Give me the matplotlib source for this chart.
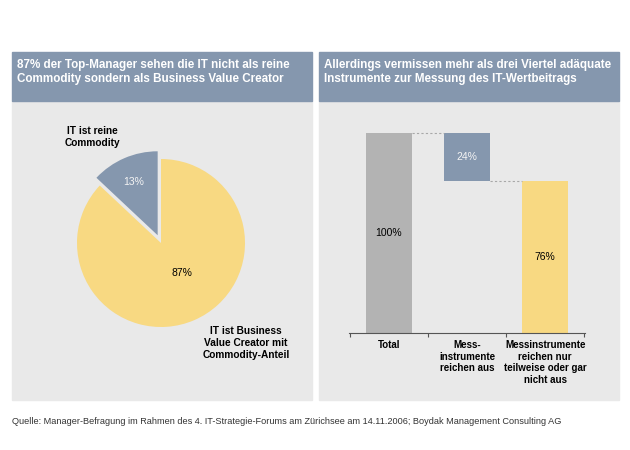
import matplotlib.pyplot as plt
from matplotlib.patches import Rectangle

plt.rcParams['font.family'] = ['Liberation Sans', 'DejaVu Sans']

# Daten
pie_labels = ['IT ist reine\nCommodity', 'IT ist Business\nValue Creator mit\nCommodity-Anteil']
pie_values = [13, 87]

bar_labels = ['Total', 'Mess-\ninstrumente\nreichen aus', 'Messinstrumente\nreichen nur\nteilweise oder gar\nnicht aus']
bar_values = [100, 24, 76]

title_left = '87% der Top-Manager sehen die IT nicht als reine\nCommodity sondern als Business Value Creator'
title_right = 'Allerdings vermissen mehr als drei Viertel adäquate\nInstrumente zur Messung des IT-Wertbeitrags'
source = ('Quelle: Manager-Befragung im Rahmen des 4. IT-Strategie-Forums am Zürichsee am 14.11.2006; '
          'Boydak Management Consulting AG')

header_col = '#8597ae'
panel_col = '#e9e9e9'
yellow = '#f8d982'
bluegray = '#8597ae'
gray = '#b3b3b3'

W, H = 630, 450
fig = plt.figure(figsize=(6.3, 4.5), dpi=100)


def px(x0, y0, x1, y1):
    # Pixelbox (oben links / unten rechts) -> Figurkoordinaten
    return [x0 / W, 1 - y1 / H, (x1 - x0) / W, (y1 - y0) / H]


# Panels und Kopfzeilen
for x0, x1, title in [(12, 312, title_left), (319, 619, title_right)]:
    b = px(x0, 101, x1, 400)
    fig.patches.append(Rectangle((b[0], b[1]), b[2], b[3], transform=fig.transFigure,
                                 color=panel_col, zorder=-5))
    h = px(x0, 52, x1, 101)
    fig.patches.append(Rectangle((h[0], h[1]), h[2], h[3], transform=fig.transFigure,
                                 color=header_col, zorder=-5))
    fig.text((x0 + 5) / W, 1 - 72 / H, title, color='white', fontsize=8.4,
             fontweight='bold', va='center', ha='left', linespacing=1.22)

fig.text(12 / W, 1 - 421 / H, source, fontsize=6.6, color='#333333', va='center')

# Kreisdiagramm
cx, cy, r = 161, 243, 84
ax1 = fig.add_axes(px(12, 101, 312, 400), zorder=2)
ax1.pie(pie_values, colors=[bluegray, yellow], startangle=90, counterclock=True,
        explode=[0.1, 0], radius=1, wedgeprops=dict(linewidth=0))
ax1.set_xlim((12 - cx) / r, (312 - cx) / r)
ax1.set_ylim((cy - 400) / r, (cy - 101) / r)
ax1.set_aspect('auto')
ax1.axis('off')

ax1.text(-0.82, 1.26, pie_labels[0], ha='center', va='center', fontsize=7.3,
         fontweight='bold', linespacing=1.2)
ax1.text(1.01, -1.19, pie_labels[1], ha='center', va='center', fontsize=7.3,
         fontweight='bold', linespacing=1.2)
ax1.text(-0.32, 0.73, f'{pie_values[0]}%', ha='center', va='center', fontsize=7.5, color='#f4f4f4')
ax1.text(0.25, -0.36, f'{pie_values[1]}%', ha='center', va='center', fontsize=7.5, color='black')

# Wasserfalldiagramm
ax2 = fig.add_axes(px(349, 113, 585, 333), zorder=2)
bottoms = [0, bar_values[0] - bar_values[1], 0]
cols = [gray, bluegray, yellow]
bw = 0.59
x = range(len(bar_values))
ax2.bar(x, bar_values, bottom=bottoms, width=bw, color=cols, linewidth=0)
ax2.set_xlim(-0.51, 2.51)
ax2.set_ylim(0, 110)
ax2.patch.set_visible(False)

# Verbindungslinien
ax2.plot([0 + bw / 2, 1 - bw / 2], [bar_values[0]] * 2, ls=(0, (2, 2)), color='#a8a8a8', lw=0.8)
ax2.plot([1 + bw / 2, 2 - bw / 2], [bottoms[1]] * 2, ls=(0, (2, 2)), color='#a8a8a8', lw=0.8)

txt_cols = ['black', '#f4f4f4', 'black']
for i, (v, b) in enumerate(zip(bar_values, bottoms)):
    ax2.text(i, b + v / 2, f'{v}%', ha='center', va='center', fontsize=7.5, color=txt_cols[i])

for s in ['top', 'right', 'left']:
    ax2.spines[s].set_visible(False)
ax2.spines['bottom'].set_color('#555555')
ax2.spines['bottom'].set_linewidth(0.8)
ax2.set_yticks([])
ax2.set_xticks(list(x))
ax2.set_xticklabels(bar_labels, fontsize=7, fontweight='bold', va='top', linespacing=1.2)
ax2.tick_params(axis='x', which='major', length=0, pad=5)
ax2.set_xticks([-0.5, 0.5, 1.5, 2.5], minor=True)
ax2.tick_params(axis='x', which='minor', length=3, color='#555555', width=0.8)

fig.savefig('out.png', dpi=100)
